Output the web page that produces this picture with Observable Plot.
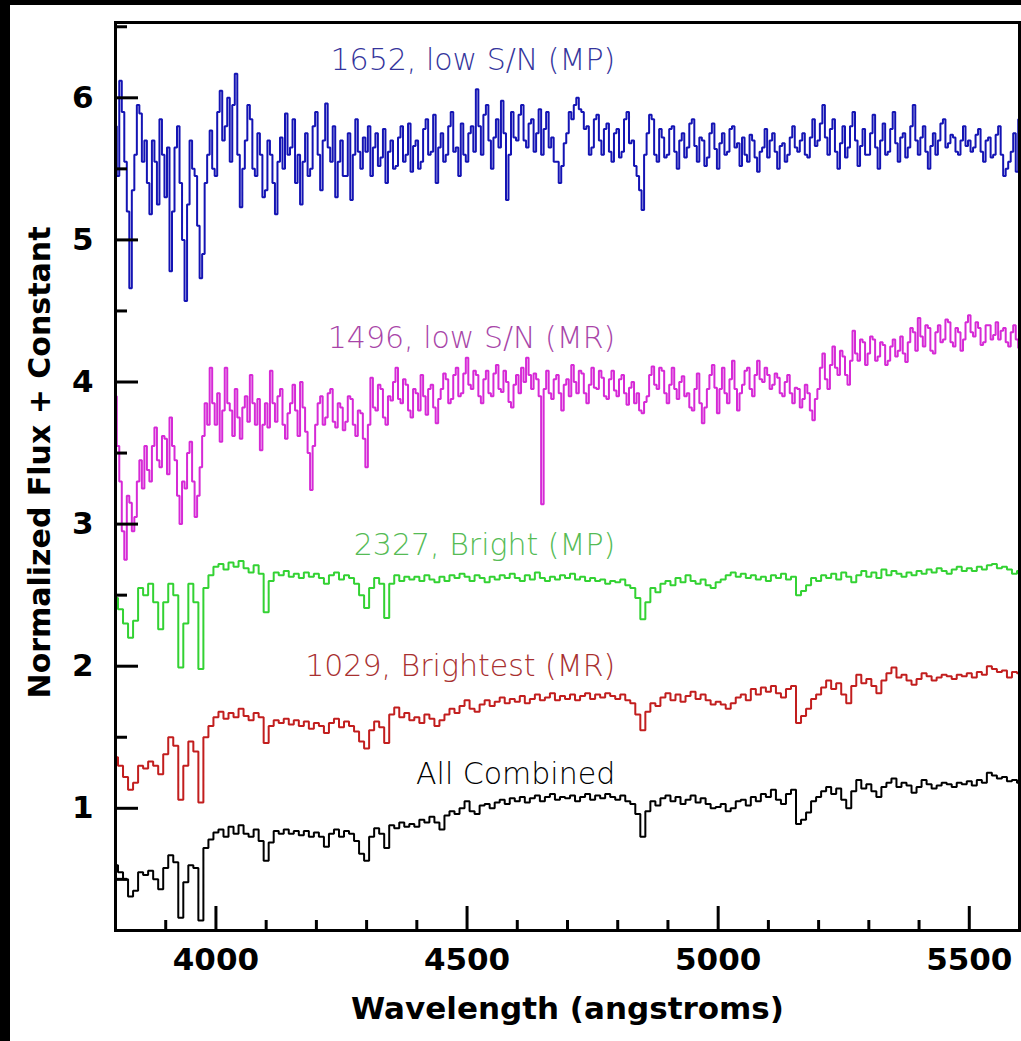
<!DOCTYPE html>
<html>
<head>
<meta charset="utf-8">
<script src="https://cdn.jsdelivr.net/npm/d3@7"></script>
<script src="https://cdn.jsdelivr.net/npm/@observablehq/plot@0.6"></script>
<style>
  html, body { margin: 0; padding: 0; background: #000; }
  #panel { position: absolute; left: 10px; top: 5px; width: 1011px; height: 1036px; background: #fff; }
</style>
</head>
<body>
<div id="panel"></div>
<script>
// Spectra start at 3800 Å; the two low S/N stars are sampled every 5 Å, the others every 10 Å
const wavelengthStart = 3800;

const allCombined = [
  0.60, 0.55, 0.50, 0.38, 0.42, 0.55, 0.53, 0.56, 0.50, 0.43,
  0.58, 0.67, 0.62, 0.23, 0.48, 0.60, 0.58, 0.21, 0.72, 0.78,
  0.83, 0.85, 0.80, 0.87, 0.82, 0.88, 0.82, 0.80, 0.85, 0.77,
  0.63, 0.76, 0.84, 0.82, 0.85, 0.82, 0.84, 0.81, 0.84, 0.80,
  0.83, 0.80, 0.73, 0.82, 0.85, 0.80, 0.84, 0.82, 0.77, 0.68,
  0.63, 0.80, 0.86, 0.82, 0.72, 0.88, 0.86, 0.90, 0.87, 0.89,
  0.87, 0.92, 0.90, 0.94, 0.90, 0.85, 0.95, 0.98, 0.96, 1.00,
  1.05, 0.98, 0.96, 1.02, 1.03, 1.00, 1.04, 1.06, 1.03, 1.07,
  1.05, 1.08, 1.04, 1.07, 1.09, 1.05, 1.08, 1.10, 1.06, 1.08,
  1.07, 1.09, 1.05, 1.08, 1.10, 1.06, 1.09, 1.07, 1.10, 1.08,
  1.06, 1.09, 1.05, 1.03, 0.96, 0.80, 0.98, 1.05, 1.02, 1.07,
  1.09, 1.05, 1.08, 1.03, 1.06, 1.09, 1.04, 1.07, 1.03, 1.00,
  1.01, 1.03, 0.98, 1.00, 1.05, 1.06, 1.02, 1.08, 1.05, 1.10,
  1.08, 1.13, 1.06, 1.03, 1.10, 1.13, 0.89, 0.92, 0.97, 1.05,
  1.08, 1.12, 1.15, 1.10, 1.14, 1.06, 1.00, 1.12, 1.20, 1.14,
  1.17, 1.12, 1.08, 1.15, 1.18, 1.21, 1.15, 1.18, 1.16, 1.11,
  1.15, 1.20, 1.17, 1.14, 1.16, 1.18, 1.17, 1.15, 1.18, 1.17,
  1.19, 1.16, 1.20, 1.18, 1.25, 1.23, 1.21, 1.22, 1.19, 1.20,
  1.18
];

const star1029 = [
  1.36, 1.30, 1.22, 1.13, 1.18, 1.30, 1.28, 1.33, 1.30, 1.24,
  1.38, 1.50, 1.44, 1.06, 1.30, 1.47, 1.40, 1.04, 1.50, 1.58,
  1.64, 1.68, 1.63, 1.67, 1.64, 1.70, 1.65, 1.62, 1.67, 1.64,
  1.46, 1.58, 1.62, 1.60, 1.63, 1.59, 1.62, 1.58, 1.61, 1.56,
  1.60, 1.58, 1.53, 1.60, 1.63, 1.57, 1.61, 1.58, 1.54, 1.47,
  1.42, 1.55, 1.61, 1.57, 1.46, 1.66, 1.71, 1.64, 1.67, 1.62,
  1.64, 1.60, 1.66, 1.63, 1.58, 1.62, 1.66, 1.70, 1.67, 1.72,
  1.76, 1.70, 1.68, 1.73, 1.76, 1.72, 1.75, 1.78, 1.74, 1.77,
  1.75, 1.79, 1.74, 1.77, 1.80, 1.76, 1.78, 1.81, 1.76, 1.79,
  1.77, 1.80, 1.76, 1.79, 1.81, 1.77, 1.80, 1.78, 1.81, 1.79,
  1.77, 1.80, 1.76, 1.74, 1.66, 1.55, 1.68, 1.74, 1.72, 1.78,
  1.81, 1.76, 1.80, 1.75, 1.79, 1.82, 1.77, 1.80, 1.76, 1.73,
  1.75, 1.73, 1.70, 1.74, 1.78, 1.80, 1.76, 1.84, 1.80, 1.85,
  1.82, 1.86, 1.81, 1.78, 1.84, 1.86, 1.60, 1.65, 1.70, 1.77,
  1.80, 1.85, 1.90, 1.84, 1.88, 1.80, 1.74, 1.86, 1.94, 1.88,
  1.91, 1.86, 1.81, 1.90, 1.95, 1.99, 1.92, 1.94, 1.90, 1.87,
  1.91, 1.95, 1.93, 1.90, 1.92, 1.94, 1.93, 1.91, 1.94, 1.93,
  1.95, 1.92, 1.96, 1.94, 2.00, 1.98, 1.96, 1.97, 1.92, 1.96,
  1.95
];

const star2327 = [
  2.48, 2.40, 2.30, 2.20, 2.32, 2.55, 2.50, 2.58, 2.45, 2.26,
  2.45, 2.58, 2.50, 1.99, 2.30, 2.58, 2.45, 1.98, 2.55, 2.64,
  2.70, 2.72, 2.68, 2.73, 2.70, 2.74, 2.69, 2.66, 2.71, 2.65,
  2.38, 2.60, 2.66, 2.64, 2.67, 2.63, 2.65, 2.62, 2.66, 2.63,
  2.65, 2.62, 2.58, 2.64, 2.66, 2.61, 2.64, 2.62, 2.58, 2.50,
  2.41, 2.55, 2.62, 2.58, 2.34, 2.58, 2.64, 2.60, 2.63, 2.61,
  2.63, 2.60, 2.64, 2.61, 2.59, 2.63, 2.60, 2.64, 2.62, 2.65,
  2.63, 2.60, 2.64, 2.62, 2.59, 2.63, 2.61, 2.64, 2.62, 2.65,
  2.62, 2.60, 2.64, 2.61, 2.66, 2.62, 2.60, 2.63, 2.61, 2.64,
  2.62, 2.65, 2.61, 2.63, 2.60, 2.62, 2.60, 2.61, 2.58, 2.60,
  2.59, 2.61, 2.57, 2.55, 2.48, 2.33, 2.45, 2.55, 2.52, 2.58,
  2.60, 2.57, 2.62, 2.59, 2.64, 2.60, 2.58, 2.61, 2.57, 2.55,
  2.59, 2.61, 2.64, 2.66, 2.63, 2.65, 2.62, 2.64, 2.61, 2.63,
  2.60, 2.64, 2.62, 2.65, 2.61, 2.63, 2.50, 2.53, 2.57, 2.62,
  2.60, 2.64, 2.62, 2.65, 2.61, 2.66, 2.63, 2.59, 2.64, 2.67,
  2.63, 2.66, 2.62, 2.68, 2.64, 2.67, 2.65, 2.63, 2.66, 2.64,
  2.67, 2.65, 2.68, 2.66, 2.69, 2.67, 2.65, 2.68, 2.70, 2.67,
  2.69, 2.67, 2.70, 2.68, 2.71, 2.72, 2.69, 2.70, 2.68, 2.65,
  2.67
];

const star1496 = [
  3.90, 3.55, 3.30, 2.95, 2.75, 3.20, 3.15, 2.95, 3.05, 3.30, 3.45, 3.25, 3.55, 3.38, 3.30, 3.55, 3.68, 3.45, 3.40, 3.62,
  3.60, 3.35, 3.75, 3.55, 3.45, 3.20, 3.00, 3.30, 3.25, 3.50, 3.58, 3.30, 3.05, 3.20, 3.40, 3.62, 3.85, 3.70, 4.10, 3.85,
  3.70, 3.92, 3.58, 3.80, 4.10, 3.85, 3.80, 3.62, 3.95, 3.75, 3.60, 3.82, 3.90, 3.72, 4.05, 3.85, 3.70, 3.88, 3.52, 3.70,
  3.85, 3.68, 4.08, 3.85, 3.72, 3.90, 3.95, 3.70, 3.60, 3.78, 3.85, 3.98, 3.80, 3.62, 4.00, 3.82, 3.65, 3.50, 3.24, 3.55,
  3.70, 3.85, 3.90, 3.70, 3.75, 3.92, 3.95, 3.72, 3.68, 3.85, 3.82, 3.66, 3.72, 3.90, 3.88, 3.70, 3.62, 3.80, 3.78, 3.60,
  3.40, 3.70, 4.03, 3.82, 3.80, 3.98, 3.95, 3.75, 3.70, 3.90, 3.87, 4.00, 4.10, 3.88, 3.85, 4.02, 3.98, 3.80, 3.75, 3.95,
  3.92, 3.80, 4.05, 3.90, 3.77, 3.95, 3.98, 3.82, 3.71, 3.88, 3.95, 4.06, 4.02, 3.85, 3.88, 4.05, 4.10, 3.90, 3.92, 4.06,
  4.17, 3.98, 3.95, 4.08, 4.05, 3.90, 3.85, 4.02, 4.08, 3.92, 3.90, 4.06, 4.12, 3.95, 3.93, 4.08, 4.00, 3.86, 3.82, 3.98,
  4.05, 3.92, 4.10, 4.00, 4.17, 4.05, 3.95, 4.06, 4.02, 3.90, 3.14, 3.95, 4.08, 3.92, 3.88, 4.02, 4.05, 3.92, 3.80, 3.98,
  4.02, 3.90, 4.12, 4.00, 3.92, 4.08, 4.06, 3.92, 3.85, 3.98, 4.10, 3.96, 3.95, 4.08, 4.03, 3.90, 3.88, 4.02, 4.08, 3.94,
  3.90, 4.02, 4.05, 3.92, 3.84, 3.96, 4.00, 3.85, 3.92, 3.80, 3.78, 3.86, 3.90, 4.05, 4.11, 3.98, 3.95, 4.10, 4.08, 3.92,
  3.85, 3.98, 4.10, 3.95, 3.88, 4.00, 4.04, 3.90, 3.92, 3.82, 3.80, 3.95, 4.06, 3.85, 3.71, 3.82, 3.95, 4.05, 4.12, 3.96,
  3.78, 3.95, 4.10, 3.92, 3.85, 4.02, 4.15, 3.95, 3.80, 3.92, 3.98, 4.08, 4.10, 3.95, 3.90, 4.05, 4.15, 4.02, 4.00, 4.10,
  4.05, 3.95, 3.98, 4.06, 4.03, 3.92, 3.90, 4.00, 4.05, 3.92, 3.85, 3.96, 3.95, 3.82, 3.88, 3.98, 3.92, 3.80, 3.73, 3.88,
  3.95, 4.10, 4.20, 4.02, 3.95, 4.12, 4.25, 4.10, 4.05, 4.22, 4.18, 4.05, 3.98, 4.15, 4.36, 4.20, 4.15, 4.30, 4.28, 4.12,
  4.20, 4.32, 4.30, 4.15, 4.18, 4.28, 4.26, 4.12, 4.15, 4.25, 4.30, 4.18, 4.22, 4.32, 4.20, 4.14, 4.28, 4.38, 4.35, 4.22,
  4.45, 4.32, 4.25, 4.40, 4.38, 4.22, 4.20, 4.35, 4.40, 4.28, 4.30, 4.44, 4.42, 4.28, 4.25, 4.38, 4.35, 4.22, 4.30, 4.42,
  4.47, 4.35, 4.32, 4.42, 4.38, 4.26, 4.28, 4.40, 4.40, 4.30, 4.33, 4.42, 4.30, 4.36, 4.38, 4.28, 4.25, 4.35, 4.40, 4.30,
  4.24
];

const star1652 = [
  5.80, 5.45, 6.12, 5.90, 5.55, 5.20, 4.66, 5.35, 5.60, 5.95, 5.89, 5.55, 5.70, 5.40, 5.18, 5.70, 5.55, 5.25, 5.85, 5.60,
  5.30, 5.65, 4.78, 5.20, 5.65, 5.80, 5.40, 5.00, 4.57, 5.25, 5.70, 5.50, 5.45, 5.10, 4.73, 4.90, 5.40, 5.60, 5.77, 5.50,
  5.45, 5.90, 6.05, 5.70, 5.80, 6.00, 5.55, 5.95, 6.17, 5.60, 5.23, 5.50, 5.70, 5.95, 5.85, 5.50, 5.45, 5.75, 5.60, 5.30,
  5.35, 5.70, 5.60, 5.40, 5.18, 5.55, 5.72, 5.50, 5.89, 5.60, 5.65, 5.85, 5.40, 5.60, 5.25, 5.55, 5.75, 5.45, 5.50, 5.80,
  5.90, 5.60, 5.35, 5.70, 5.96, 5.65, 5.55, 5.80, 5.30, 5.55, 5.70, 5.45, 5.45, 5.75, 5.28, 5.60, 5.85, 5.62, 5.50, 5.72,
  5.62, 5.80, 5.45, 5.65, 5.75, 5.52, 5.58, 5.78, 5.40, 5.62, 5.70, 5.50, 5.52, 5.72, 5.80, 5.55, 5.60, 5.82, 5.48, 5.66,
  5.70, 5.50, 5.55, 5.78, 5.85, 5.60, 5.62, 5.88, 5.40, 5.65, 5.75, 5.55, 5.60, 5.80, 5.90, 5.62, 5.65, 5.45, 5.82, 5.60,
  5.55, 5.75, 5.80, 5.62, 6.06, 5.80, 5.60, 5.88, 5.95, 5.70, 5.50, 5.72, 5.85, 5.65, 5.98, 5.75, 5.28, 5.60, 5.90, 5.72,
  5.70, 5.88, 5.95, 5.70, 5.65, 5.82, 5.85, 5.62, 5.75, 5.92, 5.60, 5.78, 5.90, 5.65, 5.72, 5.55, 5.55, 5.40, 5.52, 5.68,
  5.75, 5.90, 5.85, 5.95, 6.00, 5.92, 5.90, 5.78, 5.80, 5.60, 5.65, 5.85, 5.88, 5.70, 5.60, 5.78, 5.82, 5.62, 5.55, 5.75,
  5.78, 5.58, 5.62, 5.85, 5.90, 5.68, 5.70, 5.52, 5.45, 5.35, 5.21, 5.60, 5.75, 5.88, 5.85, 5.60, 5.55, 5.78, 5.72, 5.58,
  5.60, 5.78, 5.80, 5.62, 5.50, 5.70, 5.75, 5.58, 5.65, 5.82, 5.85, 5.66, 5.55, 5.72, 5.70, 5.52, 5.58, 5.75, 5.82, 5.64,
  5.50, 5.68, 5.75, 5.60, 5.62, 5.78, 5.80, 5.65, 5.68, 5.52, 5.72, 5.60, 5.55, 5.74, 5.70, 5.58, 5.48, 5.62, 5.65, 5.78,
  5.58, 5.70, 5.75, 5.62, 5.50, 5.66, 5.68, 5.55, 5.60, 5.72, 5.80, 5.65, 5.62, 5.70, 5.75, 5.60, 5.58, 5.72, 5.85, 5.66,
  5.70, 5.82, 5.95, 5.72, 5.60, 5.78, 5.85, 5.62, 5.50, 5.68, 5.80, 5.58, 5.65, 5.80, 5.90, 5.70, 5.52, 5.66, 5.78, 5.60,
  5.60, 5.75, 5.88, 5.65, 5.50, 5.70, 5.82, 5.60, 5.62, 5.78, 5.90, 5.68, 5.55, 5.72, 5.75, 5.58, 5.65, 5.80, 5.95, 5.70,
  5.60, 5.72, 5.80, 5.62, 5.50, 5.66, 5.75, 5.60, 5.70, 5.82, 5.85, 5.65, 5.68, 5.74, 5.72, 5.62, 5.60, 5.70, 5.80, 5.66,
  5.70, 5.62, 5.65, 5.74, 5.78, 5.62, 5.55, 5.70, 5.72, 5.58, 5.60, 5.74, 5.80, 5.60, 5.45, 5.50, 5.55, 5.62, 5.75, 5.48,
  5.85
];

// Series names, sampling steps (Å), colours and label placement (wavelength of label end, flux at label centre)
const seriesNames   = ["1652, low S/N (MP)", "1496, low S/N (MR)", "2327, Bright (MP)", "1029, Brightest (MR)", "All Combined"];
const seriesFlux    = [star1652, star1496, star2327, star1029, allCombined];
const seriesStep    = [5, 5, 10, 10, 10];
const lineColors    = ["#1414b4", "#d62ad6", "#33d233", "#c21e1e", "#000000"];
const labelColors   = ["#34349c", "#a845a8", "#55bb55", "#a83030", "#000000"];
const labelEndX     = [4795, 4795, 4795, 4795, 4795];
const labelY        = [6.26, 4.31, 2.85, 2.00, 1.24];

// Axis ticks
const xMajorTicks = [4000, 4500, 5000, 5500];
const xMinorTicks = [3900, 4100, 4200, 4300, 4400, 4600, 4700, 4800, 4900, 5100, 5200, 5300, 5400];
const yMajorTicks = [1, 2, 3, 4, 5, 6];
const yMinorTicks = [0.5, 1.5, 2.5, 3.5, 4.5, 5.5, 6.5];

const rows = seriesFlux.map((flux, s) =>
  flux.map((f, i) => ({wavelength: wavelengthStart + i * seriesStep[s], flux: f, series: seriesNames[s]}))
);
const labels = seriesNames.map((name, i) => ({name, x: labelEndX[i], y: labelY[i], color: labelColors[i]}));

const tickFont = {fontFamily: "DejaVu Sans", fontWeight: "bold", fontSize: 31};

const chart = Plot.plot({
  width: 1011,
  height: 1036,
  marginLeft: 105,
  marginRight: 2,
  marginTop: 17,
  marginBottom: 111,
  style: {background: "#fff", color: "#000", fontFamily: "DejaVu Sans"},
  x: {domain: [3800, 5600]},
  y: {domain: [0.14, 6.53]},
  marks: [
    ...rows.map((data, s) => Plot.lineY(data, {
      x: "wavelength", y: "flux", curve: "step",
      stroke: lineColors[s], strokeWidth: 2, strokeLinejoin: "miter"
    })),
    Plot.text(labels, {
      x: "x", y: "y", text: "name", fill: "color", textAnchor: "end",
      fontFamily: "DejaVu Sans", fontWeight: 300, fontSize: 30
    }),
    // inward ticks
    Plot.axisX(xMajorTicks, {tickSize: -24, strokeWidth: 3, fill: "none", label: null}),
    Plot.axisX(xMinorTicks, {tickSize: -10, strokeWidth: 3, fill: "none", label: null}),
    Plot.axisY(yMajorTicks, {tickSize: -23, strokeWidth: 3, fill: "none", label: null}),
    Plot.axisY(yMinorTicks, {tickSize: -12, strokeWidth: 3, fill: "none", label: null}),
    // tick labels
    Plot.axisX(xMajorTicks, {tickSize: 0, tickPadding: 17, tickFormat: d => String(d), label: null, ...tickFont}),
    Plot.axisY(yMajorTicks, {tickSize: 0, tickPadding: 22, tickFormat: d => String(d), label: null, ...tickFont}),
    // axis titles
    Plot.text(["Wavelength (angstroms)"], {frameAnchor: "bottom", dy: 88, textAnchor: "middle", ...tickFont}),
    Plot.text(["Normalized Flux + Constant"], {
      frameAnchor: "left", textAnchor: "middle", rotate: -90, dx: -75, dy: -14,
      fontFamily: "DejaVu Sans", fontWeight: "bold", fontSize: 30
    }),
    Plot.frame({stroke: "#000", strokeWidth: 3})
  ]
});

document.getElementById("panel").appendChild(chart);
</script>
</body>
</html>
